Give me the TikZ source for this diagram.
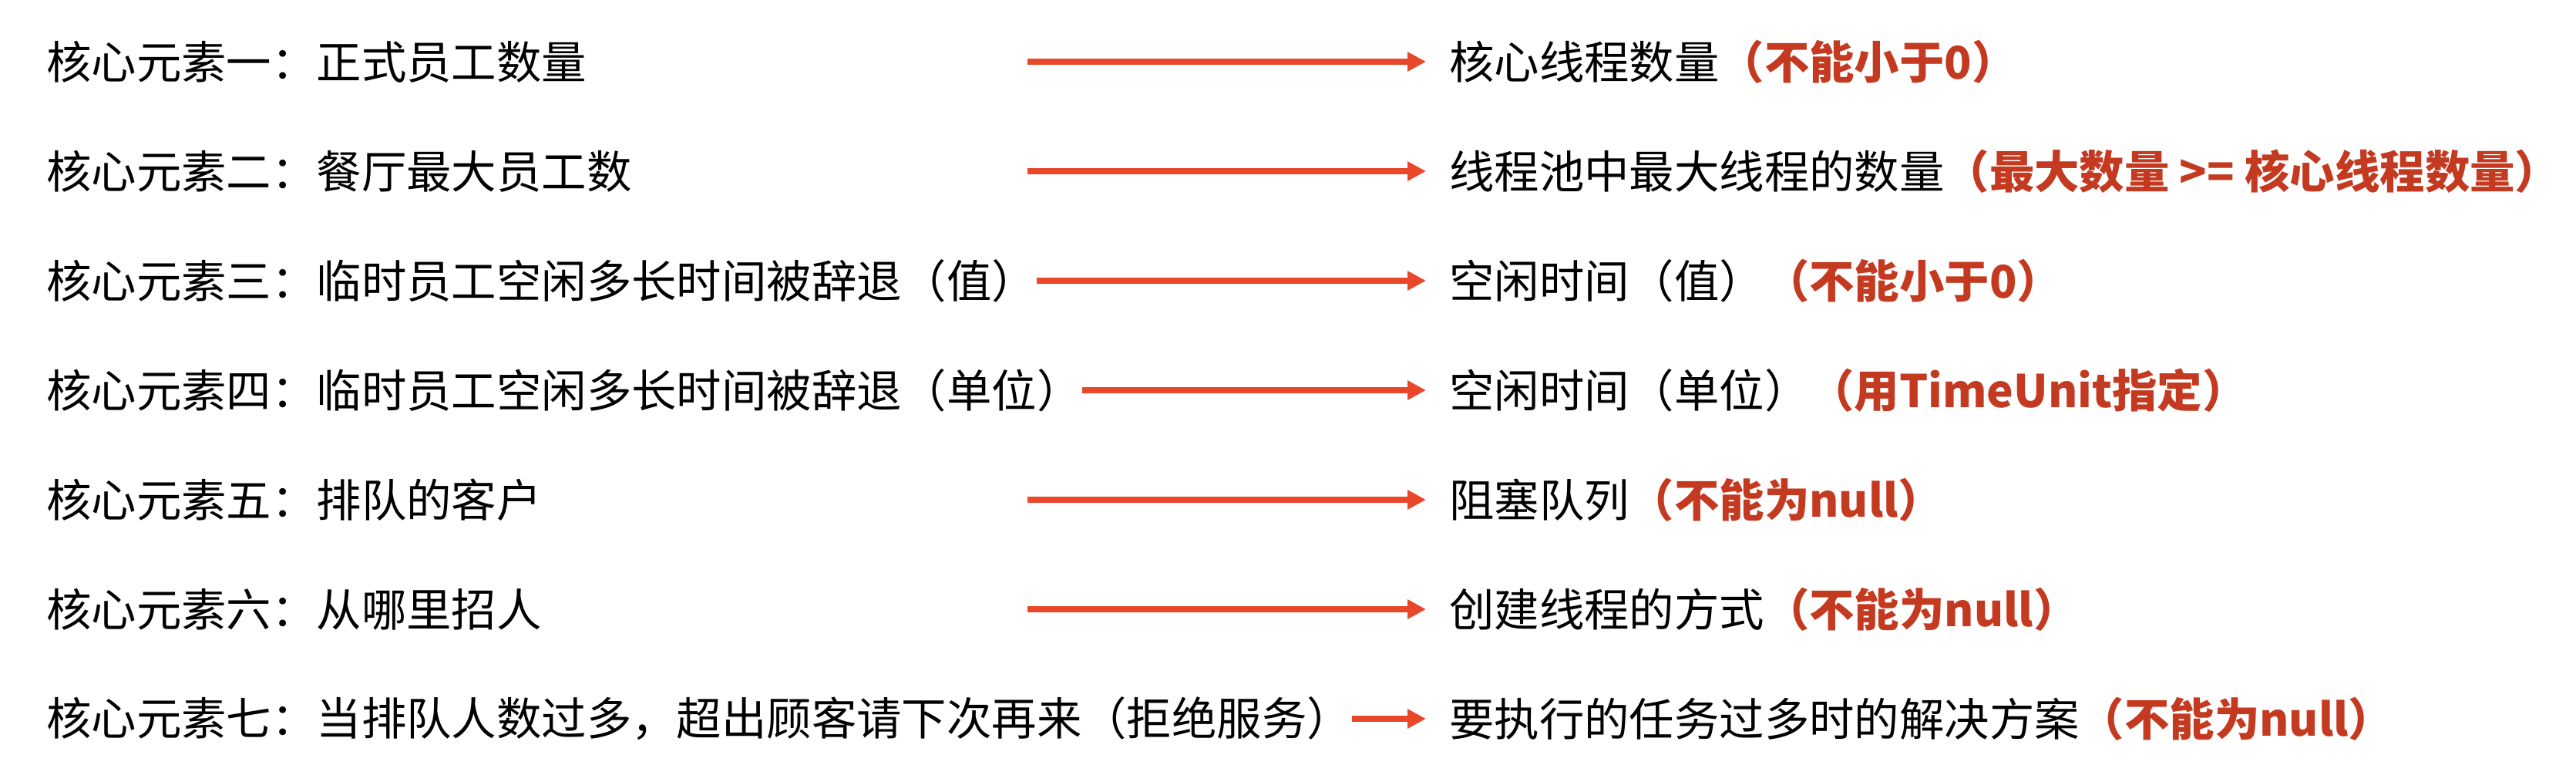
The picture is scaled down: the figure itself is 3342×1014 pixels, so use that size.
\documentclass[tikz,border=0pt]{standalone}
\usepackage{fontspec}
\setmainfont{Noto Sans CJK SC}
\usetikzlibrary{arrows.meta}
\definecolor{arrowred}{RGB}{232,71,42}
\definecolor{notered}{RGB}{196,58,32}
\newcommand{\redpart}[1]{{\bfseries\color{notered}#1}}
\begin{document}
\begin{tikzpicture}[x=1pt,y=-1pt,
  lbl/.style={anchor=west,inner sep=0pt,font=\fontsize{58.4}{70}\selectfont,text=black},
  conn/.style={draw=arrowred,line width=8pt,shorten >=30pt,-{Triangle[length=24pt,width=24pt]}}]
\useasboundingbox (0,0) rectangle (3342,1014);
% left texts
\node[lbl] (L1) at (60,80)  {核心元素一：正式员工数量};
\node[lbl] (L2) at (60,222) {核心元素二：餐厅最大员工数};
\node[lbl] (L3) at (60,364) {核心元素三：临时员工空闲多长时间被辞退（值）};
\node[lbl] (L4) at (60,506) {核心元素四：临时员工空闲多长时间被辞退（单位）};
\node[lbl] (L5) at (60,648) {核心元素五：排队的客户};
\node[lbl] (L6) at (60,790) {核心元素六：从哪里招人};
\node[lbl] (L7) at (60,932) {核心元素七：当排队人数过多，超出顾客请下次再来（拒绝服务）};
% right texts
\node[lbl] (R1) at (1880,80)  {核心线程数量\redpart{（不能小于0）}};
\node[lbl] (R2) at (1880,222) {线程池中最大线程的数量\redpart{（最大数量 >= 核心线程数量）}};
\node[lbl] (R3) at (1880,364) {空闲时间（值）\redpart{（不能小于0）}};
\node[lbl] (R4) at (1880,506) {空闲时间（单位）\redpart{（用TimeUnit指定）}};
\node[lbl] (R5) at (1880,648) {阻塞队列\redpart{（不能为null）}};
\node[lbl] (R6) at (1880,790) {创建线程的方式\redpart{（不能为null）}};
\node[lbl] (R7) at (1880,932) {要执行的任务过多时的解决方案\redpart{（不能为null）}};
% arrow start points
\coordinate (S1) at (1333,80);
\coordinate (S2) at (1333,222);
\coordinate (S5) at (1333,648);
\coordinate (S6) at (1333,790);
% connectors
\draw[conn] (S1) -- (R1.west);
\draw[conn] (S2) -- (R2.west);
\draw[conn] (L3.east) -- (R3.west);
\draw[conn] (L4.east) -- (R4.west);
\draw[conn] (S5) -- (R5.west);
\draw[conn] (S6) -- (R6.west);
\draw[conn] (L7.east) -- (R7.west);
\end{tikzpicture}
\end{document}
